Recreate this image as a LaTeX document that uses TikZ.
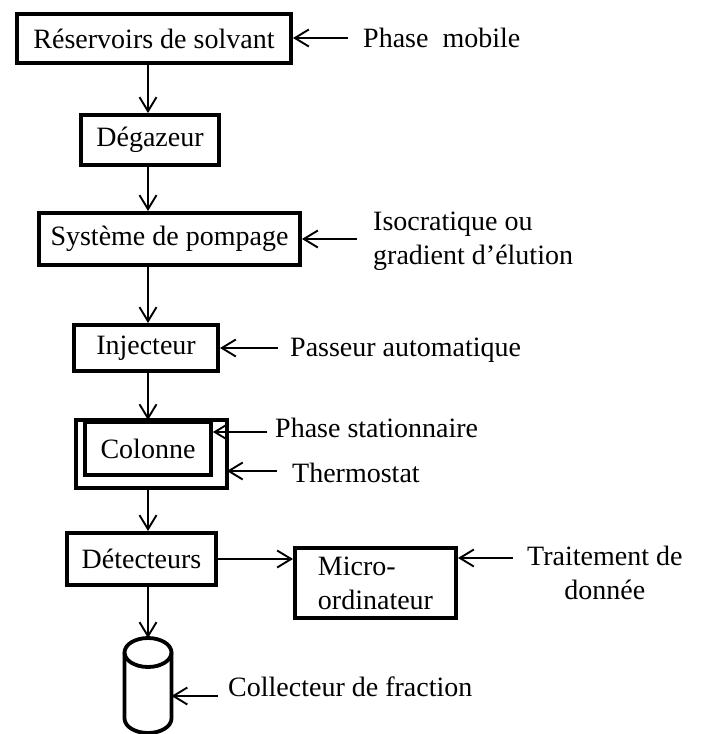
\documentclass[tikz,border=0pt]{standalone}
\usepackage{fontspec}
\setmainfont{Liberation Serif}
\usetikzlibrary{arrows.meta}
\begin{document}
\begin{tikzpicture}[x=1pt,y=1pt,
  font=\fontsize{28}{34}\selectfont,
  box/.style={draw, line width=4pt, inner sep=0pt, align=center},
  lbl/.style={anchor=west, inner sep=0pt, align=left},
  arr/.style={line width=1.9pt, -{Straight Barb[length=14pt,width=17pt,line width=1.9pt]}}]
\useasboundingbox (0,0) rectangle (701,-734);
\coordinate (ax) at (148,0);
% boxes
\node[box, minimum width=274pt, minimum height=49pt] (res) at (154,-38.5) {Réservoirs de solvant};
\node[box, minimum width=138pt, minimum height=50pt] (deg) at (150,-140) {Dégazeur};
\node[box, minimum width=261pt, minimum height=52pt] (sys) at (169.5,-239) {Système de pompage};
\node[box, minimum width=144pt, minimum height=46pt] (inj) at (146,-348) {Injecteur};
\node[box, line width=3.8pt, minimum width=126pt, minimum height=53pt] (col) at (148,-448.5) {Colonne};
\draw[line width=3.8pt] ([xshift=-7pt]col.north west) rectangle ([xshift=14pt,yshift=-11pt]col.south east);
\coordinate (colbot) at ([yshift=-11pt]col.south);
\coordinate (colright) at ([xshift=14pt]col.east);
\node[box, minimum width=149pt, minimum height=52pt] (det) at (141.5,-559) {Détecteurs};
\node[box, minimum width=161pt, minimum height=70pt, align=left] (mic) at (375.5,-583) {Micro-\\ordinateur};
% cylinder
\coordinate (cyl) at (148,-652.5);
\coordinate (cyltop) at (148,-638);
\coordinate (cylright) at (171.5,-696);
\draw[line width=3.8pt] (cyl) ellipse [x radius=23.5, y radius=14.5];
\draw[line width=3.8pt] (124.5,-652.5) -- (124.5,-718.5)
  arc[start angle=180, end angle=360, x radius=23.5, y radius=14.5] -- (171.5,-652.5);
% labels
\node[lbl] (pm) at (363,-38) {Phase\ \ mobile};
\node[lbl] (iso) at (373,-241) {Isocratique ou\\gradient d’élution};
\node[lbl] (pas) at (290,-350) {Passeur automatique};
\node[lbl] (ps) at (275,-428) {Phase stationnaire};
\node[lbl] (th) at (292,-473) {Thermostat};
\node[lbl, align=center] (trait) at (527,-572.5) {Traitement de\\donnée};
\node[lbl] (coll) at (228,-687) {Collecteur de fraction};
% vertical flow
\draw[arr] (res.south -| ax) -- (deg.north -| ax);
\draw[arr] (deg.south -| ax) -- (sys.north -| ax);
\draw[arr] (sys.south -| ax) -- (inj.north -| ax);
\draw[arr] (inj.south -| ax) -- (col.north -| ax);
\draw[arr] (colbot -| ax) -- (det.north -| ax);
\draw[arr] (det.south -| ax) -- (cyltop);
\draw[arr] (det.east) -- (det.east -| mic.west);
% side arrows
\draw[arr] ([xshift=-15pt]pm.west) -- (pm.west -| res.east);
\draw[arr] ([xshift=-16pt]iso.west |- sys.east) -- (sys.east);
\draw[arr] ([xshift=-12pt]pas.west |- inj.east) -- (inj.east);
\draw[arr] ([xshift=-8pt,yshift=-4pt]ps.west) -- ([yshift=-4pt]ps.west -| col.east);
\draw[arr] ([xshift=-15pt,yshift=2pt]th.west) -- ([yshift=2pt]th.west -| colright);
\draw[arr] ([xshift=-14pt,yshift=14.5pt]trait.west) -- ([yshift=14.5pt]trait.west -| mic.east);
\draw[arr] ([xshift=-10pt]coll.west |- cylright) -- (cylright);
\end{tikzpicture}
\end{document}
